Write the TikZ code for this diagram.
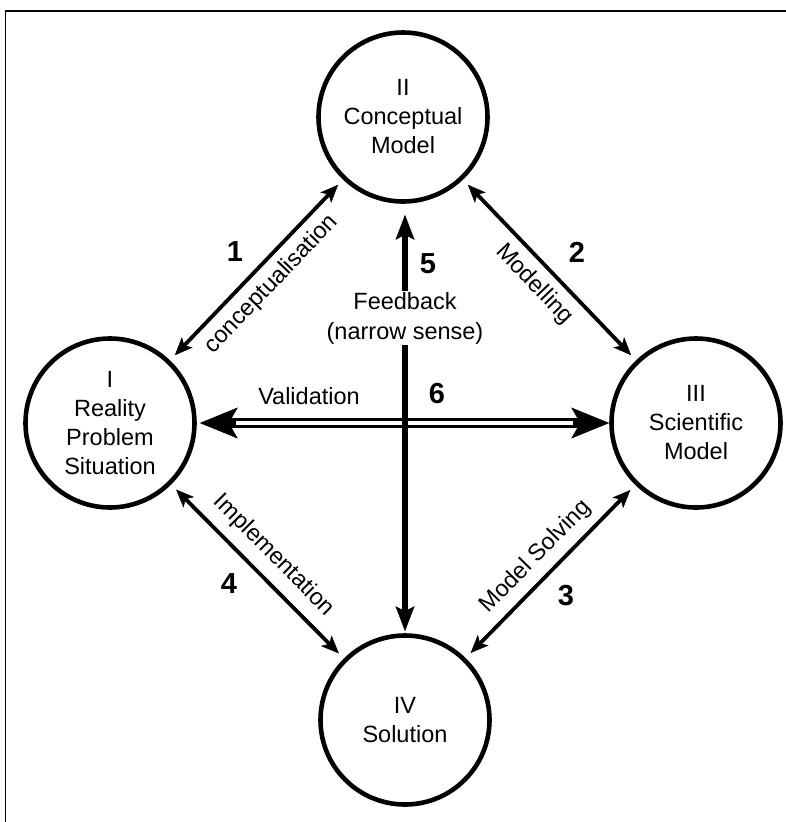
\documentclass[tikz,border=0pt]{standalone}
\usepackage{fontspec}
\setmainfont{Liberation Sans}
\usetikzlibrary{arrows.meta}
\begin{document}
\begin{tikzpicture}[x=1pt,y=-1pt,
  state/.style={circle, draw, line width=4.6pt, minimum size=169pt, inner sep=0pt, align=center, font=\fontsize{23.5}{29}\selectfont},
  conn/.style={line width=3.8pt, {Stealth[length=18pt,width=15pt,inset=4.5pt,line width=0.5pt]}-{Stealth[length=18pt,width=15pt,inset=4.5pt,line width=0.5pt]}, shorten <=7pt, shorten >=7pt},
  lbl/.style={font=\fontsize{23.5}{30}\selectfont, inner sep=3pt},
  num/.style={font=\fontsize{29}{30}\selectfont\bfseries, inner sep=0pt}]
\useasboundingbox (0,0) rectangle (786,822);
% frame
\draw[line width=2.4pt] (786,11) -- (5.5,11);
\draw[line width=1.6pt] (5.5,10) -- (5.5,822);
% states
\node[state] (II) at (403,117) {II\\Conceptual\\Model};
\node[state] (I) at (110,423) {I\\Reality\\Problem\\Situation};
\node[state] (III) at (696,423) {III\\Scientific\\Model};
\node[state] (IV) at (405,720) {IV\\Solution};
% validation double arrow
\draw[line width=10pt, {Stealth[length=38pt,width=31pt,inset=9pt,line width=0.5pt]}-{Stealth[length=38pt,width=31pt,inset=9pt,line width=0.5pt]}, shorten <=3pt] (I) -- (III);
\draw[white, line width=3.4pt, shorten <=39pt, shorten >=36pt] (I) -- (III);
% diagonal arrows
\draw[conn] (I) -- node[lbl, sloped, below=5pt] (l1) {conceptualisation} (II);
\draw[conn] (II) -- node[lbl, sloped, below=5pt] (l2) {Modelling} (III);
\draw[conn] (IV) -- node[lbl, sloped, above=5pt] (l3) {Model Solving} (III);
\draw[conn] (I) -- node[lbl, sloped, above=7pt] (l4) {Implementation} (IV);
% feedback arrow
\draw[line width=6.2pt, {Stealth[length=25pt,width=19pt,inset=5pt,line width=0.5pt]}-{Stealth[length=25pt,width=19pt,inset=5pt,line width=0.5pt]}, shorten <=11pt, shorten >=2pt] (II.south -| IV.north) -- (IV.north);
\node[lbl, fill=white, align=center, inner sep=1pt] (fb) at (405,318) {Feedback\\(narrow sense)};
\node[lbl] (val) at (309,396) {Validation};
% numbers
\node[num] (n1) at (235,252) {1};
\node[num] (n2) at (577,252) {2};
\node[num] (n3) at (566,596) {3};
\node[num] (n4) at (229,584) {4};
\node[num] (n5) at (428,264) {5};
\node[num] (n6) at (437,394) {6};
\end{tikzpicture}
\end{document}
